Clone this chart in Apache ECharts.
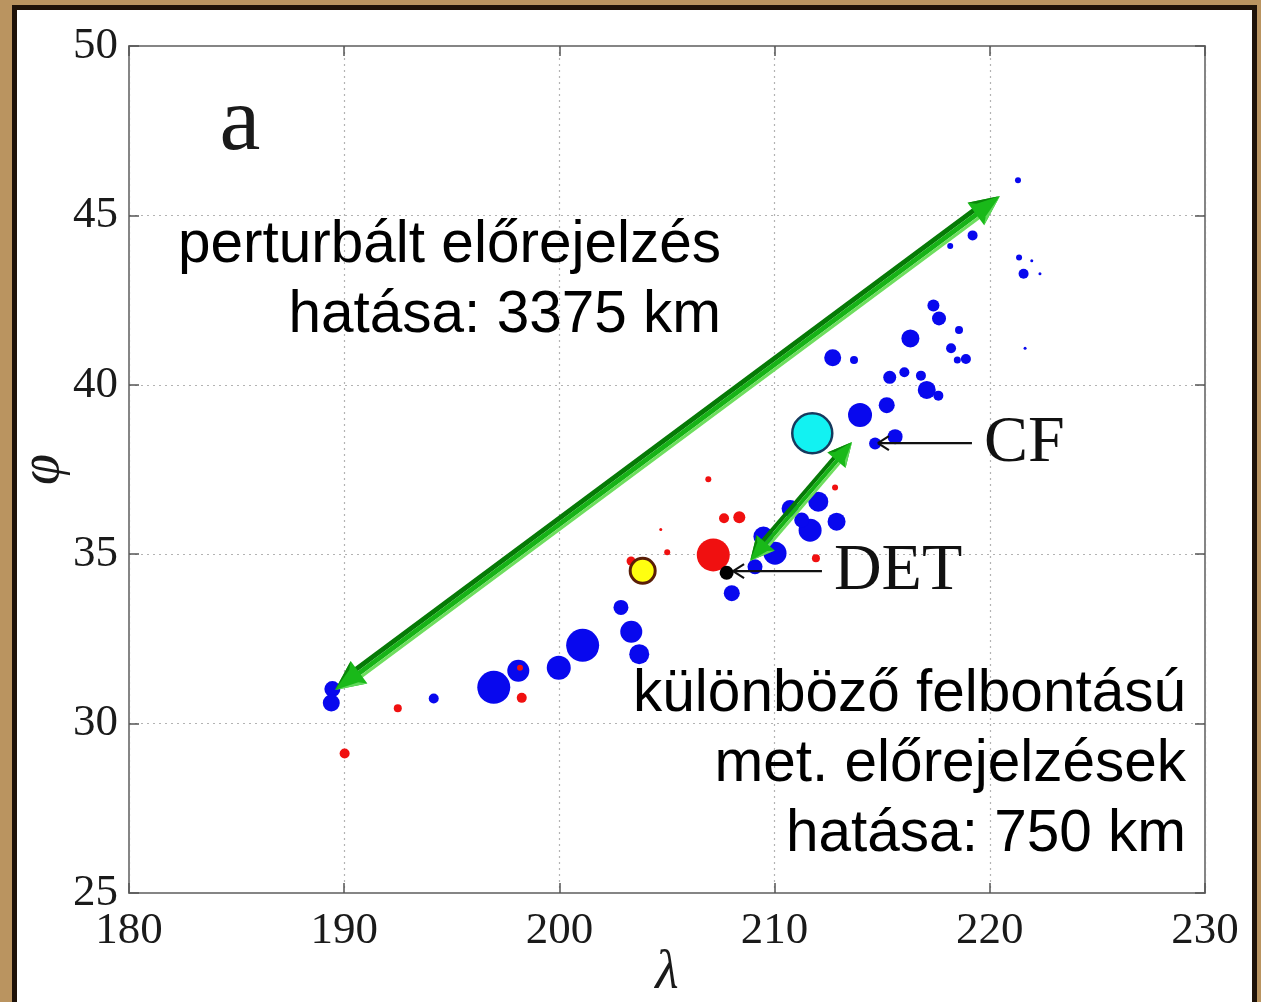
<!DOCTYPE html>
<html>
<head>
<meta charset="utf-8">
<title>λ–φ szórásdiagram</title>
<script src="https://cdn.jsdelivr.net/npm/echarts@6/dist/echarts.min.js"></script>
<style>
  html, body { margin: 0; padding: 0; }
  body { width: 1261px; height: 1002px; background: #ba9460; overflow: hidden; position: relative; }
  #frame { position: absolute; left: 12px; top: 5px; width: 1235px; height: 1100px;
           border: 5px solid #1e1208; background: #ffffff; }
  #chart { position: absolute; left: 0; top: 0; width: 1261px; height: 1002px; }
</style>
</head>
<body>
<div id="frame"></div>
<div id="chart"></div>
<script>
// Axis ticks
const xTicks = [180, 190, 200, 210, 220, 230];
const yTicks = [25, 30, 35, 40, 45, 50];

// Ensemble members: [λ, φ, marker diameter]
const bluePoints = [
  [189.45, 31.02, 16], [189.40, 30.61, 17], [194.16, 30.74, 10], [196.95, 31.07, 33],
  [198.09, 31.56, 22], [199.97, 31.65, 24], [201.08, 32.31, 33], [202.86, 33.43, 15],
  [203.34, 32.71, 22], [203.71, 32.05, 20], [208.01, 33.85, 16], [209.09, 34.63, 15],
  [210.02, 35.03, 23], [209.48, 35.52, 20], [210.72, 36.35, 17], [212.03, 36.55, 20],
  [211.65, 35.71, 23], [212.88, 35.96, 18], [211.26, 36.01, 15],
  [213.97, 39.11, 24], [215.21, 39.40, 16], [215.60, 38.47, 15], [214.67, 38.27, 12],
  [212.70, 40.80, 17], [213.69, 40.73, 8], [215.35, 40.22, 13], [216.03, 40.37, 10],
  [216.80, 40.27, 10], [217.07, 39.85, 18], [217.61, 39.68, 10],
  [221.31, 46.04, 6], [219.20, 44.41, 10], [218.16, 44.10, 6], [221.36, 43.76, 6],
  [221.95, 43.66, 3], [221.57, 43.28, 10], [222.33, 43.28, 3], [221.64, 41.08, 3],
  [217.38, 42.34, 12], [217.64, 41.96, 14], [218.57, 41.62, 8], [216.31, 41.37, 18],
  [218.20, 41.08, 10], [218.89, 40.76, 10], [218.49, 40.73, 7]
];
const redPoints = [
  [190.02, 29.12, 10], [192.49, 30.45, 8], [198.25, 30.76, 10], [198.17, 31.65, 6],
  [203.33, 34.80, 9], [205.01, 35.06, 6], [204.71, 35.73, 3], [207.15, 34.98, 33],
  [207.65, 36.06, 10], [208.36, 36.09, 12], [206.92, 37.21, 6], [211.92, 34.88, 8],
  [212.81, 36.97, 6]
];
const yellowPoints = [[203.87, 34.51, 25]];
const cyanPoints = [[211.75, 38.57, 40]];
const detPoints = [[207.77, 34.45, 14]];

// Double-headed spread arrows: [λ0, φ0, λ1, φ1]
const spreadArrows = [
  [189.57, 30.99, 220.47, 45.57],
  [208.86, 34.80, 213.60, 38.31]
];
// Pointer lines with their labels: [λ tip, φ, λ end, label]
const pointers = [
  [208.07, 34.50, 212.20, 'DET'],
  [214.80, 38.28, 219.17, 'CF']
];

const serif = '"Liberation Serif", "Times New Roman", serif';
const sans = '"Liberation Sans", Arial, sans-serif';

function arrowShapes(p0, p1, big) {
  const dx = p1[0] - p0[0], dy = p1[1] - p0[1];
  const len = Math.hypot(dx, dy);
  const d = [dx / len, dy / len];
  const n = [d[1], -d[0]]; // points to the upper-left side
  const hl = big ? 30 : 24, hw = big ? 14 : 12, sw = big ? 6.5 : 5.5;
  const a = [p0[0] + d[0] * (hl - 4), p0[1] + d[1] * (hl - 4)];
  const b = [p1[0] - d[0] * (hl - 4), p1[1] - d[1] * (hl - 4)];
  const off = (p, k) => [p[0] + n[0] * k, p[1] + n[1] * k];
  const quad = (k0, k1, fill) => ({
    type: 'polygon', shape: { points: [off(a, k0), off(b, k0), off(b, k1), off(a, k1)] },
    style: { fill: fill }
  });
  const parts = [
    quad(sw, sw * 0.25, '#067a06'),
    quad(sw * 0.25, -sw * 0.5, '#17b317'),
    quad(-sw * 0.5, -sw, '#6ede5e')
  ];
  const head = (tip, dir) => {
    const base = [tip[0] - dir[0] * hl, tip[1] - dir[1] * hl];
    const up = off(base, hw), lo = off(base, -hw);
    const mid = [tip[0] - dir[0] * hl * 0.78, tip[1] - dir[1] * hl * 0.78];
    return [
      { type: 'polygon', shape: { points: [tip, up, lo] }, style: { fill: '#19b919' } },
      { type: 'polygon', shape: { points: [tip, up, off(mid, hw * 0.55)] }, style: { fill: '#0a860a' } },
      { type: 'polygon', shape: { points: [tip, lo, off(mid, -hw * 0.55)] }, style: { fill: '#5fd85a' } }
    ];
  };
  return parts.concat(head(p1, d), head(p0, [-d[0], -d[1]]));
}

const chart = echarts.init(document.getElementById('chart'), null, { renderer: 'canvas' });

const axisLineStyle = { color: '#858585', width: 2 };
const tickStyle = { show: true, inside: true, length: 10, lineStyle: { color: '#555', width: 1.5 } };

chart.setOption({
  backgroundColor: 'transparent',
  animation: false,
  grid: { left: 129, top: 46, width: 1076, height: 847, containLabel: false, outerBoundsMode: 'none' },
  xAxis: [
    {
      type: 'value', min: xTicks[0], max: xTicks[xTicks.length - 1], interval: 10,
      position: 'bottom',
      axisLine: { show: true, onZero: false, lineStyle: axisLineStyle },
      axisTick: tickStyle,
      axisLabel: { margin: 16, fontFamily: serif, fontSize: 45, color: '#1a1a1a',
                   formatter: v => xTicks.includes(v) ? String(v) : '' },
      splitLine: { show: true, lineStyle: { color: '#b3b3b3', type: [2, 4], width: 1.2 } },
      name: 'λ', nameLocation: 'middle', nameGap: 54, nameMoveOverlap: false,
      nameTextStyle: { fontFamily: serif, fontStyle: 'italic', fontSize: 54, color: '#1a1a1a',
                       verticalAlign: 'top' }
    },
    {
      type: 'value', min: xTicks[0], max: xTicks[xTicks.length - 1], interval: 10,
      position: 'top',
      axisLine: { show: true, onZero: false, lineStyle: axisLineStyle },
      axisTick: tickStyle, axisLabel: { show: false }, splitLine: { show: false }
    }
  ],
  yAxis: [
    {
      type: 'value', min: yTicks[0], max: yTicks[yTicks.length - 1], interval: 5,
      position: 'left',
      axisLine: { show: true, onZero: false, lineStyle: axisLineStyle },
      axisTick: tickStyle,
      axisLabel: { margin: 11, fontFamily: serif, fontSize: 45, color: '#1a1a1a',
                   formatter: v => yTicks.includes(v) ? String(v) : '' },
      splitLine: { show: true, lineStyle: { color: '#b3b3b3', type: [2, 4], width: 1.2 } },
      name: 'φ', nameLocation: 'middle', nameGap: 58, nameRotate: 90, nameMoveOverlap: false,
      nameTextStyle: { fontFamily: serif, fontStyle: 'italic', fontSize: 56, color: '#1a1a1a' }
    },
    {
      type: 'value', min: yTicks[0], max: yTicks[yTicks.length - 1], interval: 5,
      position: 'right',
      axisLine: { show: true, onZero: false, lineStyle: axisLineStyle },
      axisTick: tickStyle, axisLabel: { show: false }, splitLine: { show: false }
    }
  ],
  series: [
    {
      type: 'scatter', name: 'blue', data: bluePoints, symbol: 'circle',
      symbolSize: v => v[2], itemStyle: { color: '#0808ee', opacity: 1 }, z: 3
    },
    {
      type: 'scatter', name: 'red', data: redPoints, symbol: 'circle',
      symbolSize: v => v[2], itemStyle: { color: '#f01010', opacity: 1 }, z: 4
    },
    {
      type: 'scatter', name: 'yellow', data: yellowPoints, symbol: 'circle',
      symbolSize: v => v[2],
      itemStyle: { color: '#ffff10', borderColor: '#5a1e08', borderWidth: 3, opacity: 1 }, z: 5
    },
    {
      type: 'scatter', name: 'cyan', data: cyanPoints, symbol: 'circle',
      symbolSize: v => v[2],
      itemStyle: { color: '#12f2f2', borderColor: '#163a5e', borderWidth: 2.5, opacity: 1 }, z: 5
    },
    {
      type: 'scatter', name: 'det', data: detPoints, symbol: 'circle',
      symbolSize: v => v[2], itemStyle: { color: '#000000', opacity: 1 }, z: 6
    },
    {
      type: 'custom', name: 'pointers', data: pointers, z: 7, silent: true,
      renderItem: function (params, api) {
        const tip = api.coord([api.value(0), api.value(1)]);
        const end = api.coord([api.value(2), api.value(1)]);
        const label = pointers[params.dataIndex][3];
        const s = { stroke: '#111', lineWidth: 2.2 };
        return {
          type: 'group',
          children: [
            { type: 'line', shape: { x1: tip[0], y1: tip[1], x2: end[0], y2: end[1] }, style: s },
            { type: 'line', shape: { x1: tip[0], y1: tip[1], x2: tip[0] + 11, y2: tip[1] - 7 }, style: s },
            { type: 'line', shape: { x1: tip[0], y1: tip[1], x2: tip[0] + 11, y2: tip[1] + 7 }, style: s },
            { type: 'text', style: { text: label, x: end[0] + 12, y: end[1] + 1,
                                      font: '66px ' + serif, fill: '#111',
                                      align: 'left', verticalAlign: 'middle' } }
          ]
        };
      }
    },
    {
      type: 'custom', name: 'spread', data: spreadArrows, z: 8, silent: true,
      renderItem: function (params, api) {
        const p0 = api.coord([api.value(0), api.value(1)]);
        const p1 = api.coord([api.value(2), api.value(3)]);
        return { type: 'group', children: arrowShapes(p0, p1, params.dataIndex === 0) };
      }
    }
  ],
  graphic: [
    { type: 'text', z: 10, style: { text: 'a', x: 240, y: 125, font: '92px ' + serif,
      fill: '#1a1a1a', align: 'center', verticalAlign: 'middle' } },
    { type: 'text', z: 10, style: { text: 'perturbált előrejelzés\nhatása: 3375 km',
      x: 721, y: 211, font: '58.5px ' + sans, lineHeight: 70, fill: '#000',
      align: 'right', verticalAlign: 'top' } },
    { type: 'text', z: 10, style: { text: 'különböző felbontású\nmet. előrejelzések\nhatása: 750 km',
      x: 1186, y: 660, font: '58.5px ' + sans, lineHeight: 70, fill: '#000',
      align: 'right', verticalAlign: 'top' } }
  ]
});
</script>
</body>
</html>
